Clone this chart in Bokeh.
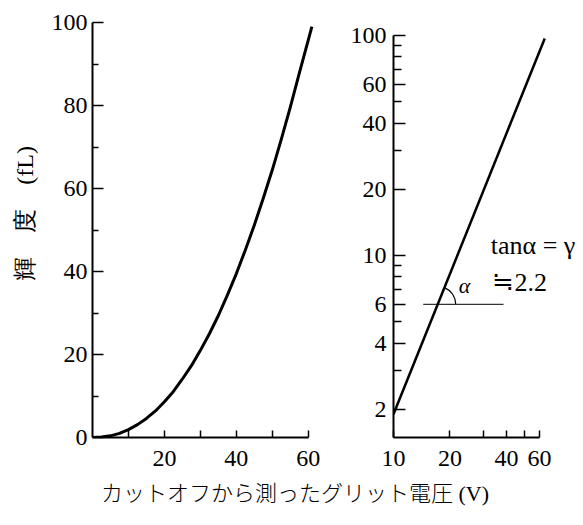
import math
from bokeh.plotting import figure
from bokeh.models import FixedTicker, Label, Range1d, Div, PrintfTickFormatter
from bokeh.layouts import row, column
from bokeh.embed import file_html
from bokeh.resources import INLINE

# ---- data ----
# left panel: luminance vs grid voltage measured from cutoff (linear axes)
volt_lin = [0, 2.5, 5, 7.5, 10, 12.5, 15, 17.5, 20, 22.5, 25, 27.5, 30, 32.5,
            35, 37.5, 40, 42.5, 45, 47.5, 50, 52.5, 55, 57.5, 61]
lum_lin = [0, 0.1, 0.4, 1.0, 1.9, 3.1, 4.6, 6.4, 8.6, 11.1, 14.1, 17.3, 21.0, 25.0,
           29.4, 34.3, 39.5, 45.2, 51.2, 57.7, 64.5, 71.9, 79.6, 87.8, 99.0]
lin_x_ticks = [20, 40, 60]
lin_x_minor = [10, 30, 50]
lin_y_ticks = [0, 20, 40, 60, 80, 100]
lin_y_minor = [10, 30, 50, 70, 90]

# right panel: same relation on log-log axes
volt_log = [10, 64]
lum_log = [1.9, 97]
log_x_ticks = [10, 20, 40, 60]
log_x_minor = [30, 50]
log_y_ticks = [2, 4, 6, 10, 20, 40, 60, 100]
log_y_minor = [3, 5, 7, 8, 9, 30, 50, 70, 80, 90]
ref_level = 6              # horizontal reference line level
ref_span = [14.4, 38.6]    # its extent in volts
gamma_text = "tanα = γ"
gamma_value = "≒2.2"

y_title = "輝　度　(fL)"
x_title = "カットオフから測ったグリット電圧 (V)"

NUM_FONT = "Liberation Serif"

FRAME_TOP = 14
FRAME_H = 423
BOTTOM = 41


def style_axes(p):
    p.outline_line_color = None
    p.xgrid.visible = False
    p.ygrid.visible = False
    p.background_fill_color = "white"
    p.border_fill_color = "white"
    for ax in (p.xaxis[0], p.yaxis[0]):
        ax.axis_line_color = "black"
        ax.axis_line_width = 2
        ax.major_tick_line_color = "black"
        ax.minor_tick_line_color = "black"
        ax.major_tick_line_width = 1.5
        ax.minor_tick_line_width = 1.5
        ax.major_tick_out = 0
        ax.minor_tick_out = 0
        ax.major_label_text_font = NUM_FONT
        ax.major_label_text_font_size = "24px"
        ax.major_label_text_color = "black"


# ---- y-axis title strip ----
p0 = figure(output_backend="svg", toolbar_location=None, title=None,
            frame_width=48, frame_height=FRAME_H,
            x_range=Range1d(0, 1), y_range=Range1d(0, 1),
            x_axis_location=None, y_axis_location=None,
            min_border_left=0, min_border_right=0,
            min_border_top=FRAME_TOP, min_border_bottom=BOTTOM,
            outline_line_color=None)
p0.xgrid.visible = False
p0.ygrid.visible = False
p0.add_layout(Label(x=0.52, y=0.53, text=y_title, angle=math.pi / 2,
                    text_align="center", text_baseline="middle",
                    text_font=NUM_FONT, text_font_size="24px",
                    text_color="black"))

# ---- left panel ----
px_unit_y = 4.15
p1 = figure(output_backend="svg", toolbar_location=None, title=None,
            frame_width=223, frame_height=FRAME_H,
            x_range=Range1d(0, 62),
            y_range=Range1d(0, FRAME_H / px_unit_y),
            min_border_left=44, min_border_right=15,
            min_border_top=FRAME_TOP, min_border_bottom=BOTTOM)
style_axes(p1)
p1.xaxis.ticker = FixedTicker(ticks=lin_x_ticks, minor_ticks=lin_x_minor)
p1.yaxis.ticker = FixedTicker(ticks=lin_y_ticks, minor_ticks=lin_y_minor)
p1.xaxis.bounds = (0, 60)
p1.yaxis.bounds = (0, 100)
p1.xaxis.major_tick_in = 7
p1.xaxis.minor_tick_in = 7
p1.yaxis.major_tick_in = 11
p1.yaxis.minor_tick_in = 6
p1.xaxis.major_label_standoff = 13
p1.yaxis.major_label_standoff = 5
p1.line(volt_lin, lum_lin, line_color="black", line_width=3, line_join="round")

# ---- right panel ----
px_dec_x = 187.6
px_dec_y = 220.0
fw2 = 184
x_end = 10 ** (1 + fw2 / px_dec_x)
y_top = 10 ** (1 + (255 - FRAME_TOP) / px_dec_y)
y_bot = 10 ** (1 - (FRAME_TOP + FRAME_H - 255) / px_dec_y)
p2 = figure(output_backend="svg", toolbar_location=None, title=None,
            x_axis_type="log", y_axis_type="log",
            frame_width=fw2, frame_height=FRAME_H,
            x_range=Range1d(10, x_end), y_range=Range1d(y_bot, y_top),
            min_border_left=63, min_border_right=2,
            min_border_top=FRAME_TOP, min_border_bottom=BOTTOM)
style_axes(p2)
p2.xaxis.ticker = FixedTicker(ticks=log_x_ticks, minor_ticks=log_x_minor)
p2.yaxis.ticker = FixedTicker(ticks=log_y_ticks, minor_ticks=log_y_minor)
p2.xaxis.formatter = PrintfTickFormatter(format="%d")
p2.yaxis.formatter = PrintfTickFormatter(format="%d")
p2.xaxis.bounds = (10, 60)
p2.yaxis.bounds = (y_bot, 100)
p2.xaxis.major_tick_in = 7
p2.xaxis.minor_tick_in = 7
p2.yaxis.major_tick_in = 12
p2.yaxis.minor_tick_in = 8
p2.xaxis.major_label_standoff = 13
p2.yaxis.major_label_standoff = 7
p2.line(volt_log, lum_log, line_color="black", line_width=2.5)
p2.line(ref_span, [ref_level, ref_level], line_color="black", line_width=1)

# intersection of the straight line with the reference level (log space)
slope = (math.log10(lum_log[1]) - math.log10(lum_log[0])) / (math.log10(volt_log[1]) - math.log10(volt_log[0]))
cross_x = 10 ** (math.log10(volt_log[0]) + (math.log10(ref_level) - math.log10(lum_log[0])) / slope)
ang = math.atan(slope * px_dec_y / px_dec_x)
p2.arc(x=[cross_x], y=[ref_level], radius=18, radius_units="screen",
       start_angle=0, end_angle=ang, line_color="black", line_width=1.2)

p2.add_layout(Label(x=23.9, y=7.3, text="α", text_align="center",
                    text_baseline="middle", text_font=NUM_FONT,
                    text_font_style="italic", text_font_size="22px",
                    text_color="black"))
p2.add_layout(Label(x=33.0, y=11.1, text=gamma_text, text_align="left",
                    text_baseline="middle", text_font=NUM_FONT,
                    text_font_size="26px", text_color="black"))
p2.add_layout(Label(x=33.7, y=7.54, text=gamma_value, text_align="left",
                    text_baseline="middle", text_font=NUM_FONT,
                    text_font_size="26px", text_color="black"))

title = Div(text=x_title, width=580, height=34,
            styles={"font-family": "'Liberation Serif', 'Noto Sans CJK JP'",
                    "font-size": "22px", "font-weight": "300",
                    "line-height": "22px",
                    "text-align": "center", "color": "black"})

layout = column(row(p0, p1, p2), title)
open("out.html", "w").write(file_html(layout, INLINE))
